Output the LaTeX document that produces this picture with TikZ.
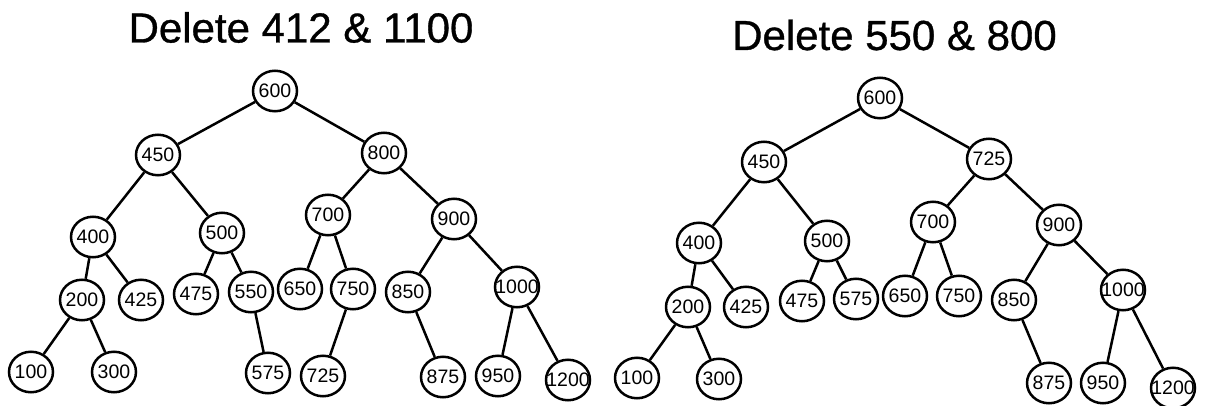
\documentclass[tikz,border=0pt]{standalone}
\usepackage{fontspec}
\setmainfont{Liberation Sans}
\newfontfamily\titlefont[FakeBold=0.8]{Liberation Sans}
\usetikzlibrary{shapes.geometric}
\tikzset{
  bn/.style={draw, ellipse, line width=2.5pt, minimum width=44pt, minimum height=40.5pt, inner sep=0pt, fill=white, font=\fontsize{19.5}{19.5}\selectfont},
  ln/.style={line width=2.5pt},
  ttl/.style={anchor=base, inner sep=0pt, font=\titlefont\fontsize{42}{42}\selectfont}
}
\newcommand{\nt}[1]{\makebox[0pt][c]{#1}}
\begin{document}
\begin{tikzpicture}[x=1pt,y=-1pt]
\useasboundingbox (0,0) rectangle (1207,406);
% titles
\node[ttl] (t1) at (301,42.5) {Delete 412 \& 1100};
\node[ttl] (t2) at (894.5,50) {Delete 550 \& 800};
% left tree
\node[bn] (l600) at (275,91) {\nt{600}};
\node[bn] (l450) at (158,155) {\nt{450}};
\node[bn] (l800) at (384,153) {\nt{800}};
\node[bn] (l400) at (93,237) {\nt{400}};
\node[bn] (l500) at (222,233) {\nt{500}};
\node[bn] (l700) at (328,215) {\nt{700}};
\node[bn] (l900) at (454,219) {\nt{900}};
\node[bn] (l200) at (82,300) {\nt{200}};
\node[bn] (l425) at (141,300) {\nt{425}};
\node[bn] (l475) at (196,294) {\nt{475}};
\node[bn] (l550) at (251,292) {\nt{550}};
\node[bn] (l650) at (300,289) {\nt{650}};
\node[bn] (l750) at (353,289) {\nt{750}};
\node[bn] (l850) at (408,292) {\nt{850}};
\node[bn] (l1000) at (517,287) {\nt{1000}};
\node[bn] (l100) at (31,372) {\nt{100}};
\node[bn] (l300) at (114,372) {\nt{300}};
\node[bn] (l575) at (268,373) {\nt{575}};
\node[bn] (l725) at (323,376) {\nt{725}};
\node[bn] (l875) at (443,377) {\nt{875}};
\node[bn] (l950) at (498,376) {\nt{950}};
\node[bn] (l1200) at (568,380) {\nt{1200}};
\draw[ln] (l600)--(l450) (l600)--(l800) (l450)--(l400) (l450)--(l500)
  (l400)--(l200) (l400)--(l425) (l200)--(l100) (l200)--(l300)
  (l500)--(l475) (l500)--(l550) (l550)--(l575)
  (l800)--(l700) (l800)--(l900) (l700)--(l650) (l700)--(l750) (l750)--(l725)
  (l900)--(l850) (l900)--(l1000) (l850)--(l875) (l1000)--(l950) (l1000)--(l1200);
% right tree
\node[bn] (r600) at (880,98) {\nt{600}};
\node[bn] (r450) at (764,162) {\nt{450}};
\node[bn] (r725) at (989,159) {\nt{725}};
\node[bn] (r400) at (699,243) {\nt{400}};
\node[bn] (r500) at (827,241) {\nt{500}};
\node[bn] (r700) at (933,222) {\nt{700}};
\node[bn] (r900) at (1059,225) {\nt{900}};
\node[bn] (r200) at (688,307) {\nt{200}};
\node[bn] (r425) at (746,307) {\nt{425}};
\node[bn] (r475) at (802,301) {\nt{475}};
\node[bn] (r575) at (856,299) {\nt{575}};
\node[bn] (r650) at (905,296) {\nt{650}};
\node[bn] (r750) at (959,296) {\nt{750}};
\node[bn] (r850) at (1014,300) {\nt{850}};
\node[bn] (r1000) at (1123,290) {\nt{1000}};
\node[bn] (r100) at (637,378) {\nt{100}};
\node[bn] (r300) at (719,379) {\nt{300}};
\node[bn] (r875) at (1049,383) {\nt{875}};
\node[bn] (r950) at (1103,383) {\nt{950}};
\node[bn] (r1200) at (1173,388) {\nt{1200}};
\draw[ln] (r600)--(r450) (r600)--(r725) (r450)--(r400) (r450)--(r500)
  (r400)--(r200) (r400)--(r425) (r200)--(r100) (r200)--(r300)
  (r500)--(r475) (r500)--(r575)
  (r725)--(r700) (r725)--(r900) (r700)--(r650) (r700)--(r750)
  (r900)--(r850) (r900)--(r1000) (r850)--(r875) (r1000)--(r950) (r1000)--(r1200);
\end{tikzpicture}
\end{document}
